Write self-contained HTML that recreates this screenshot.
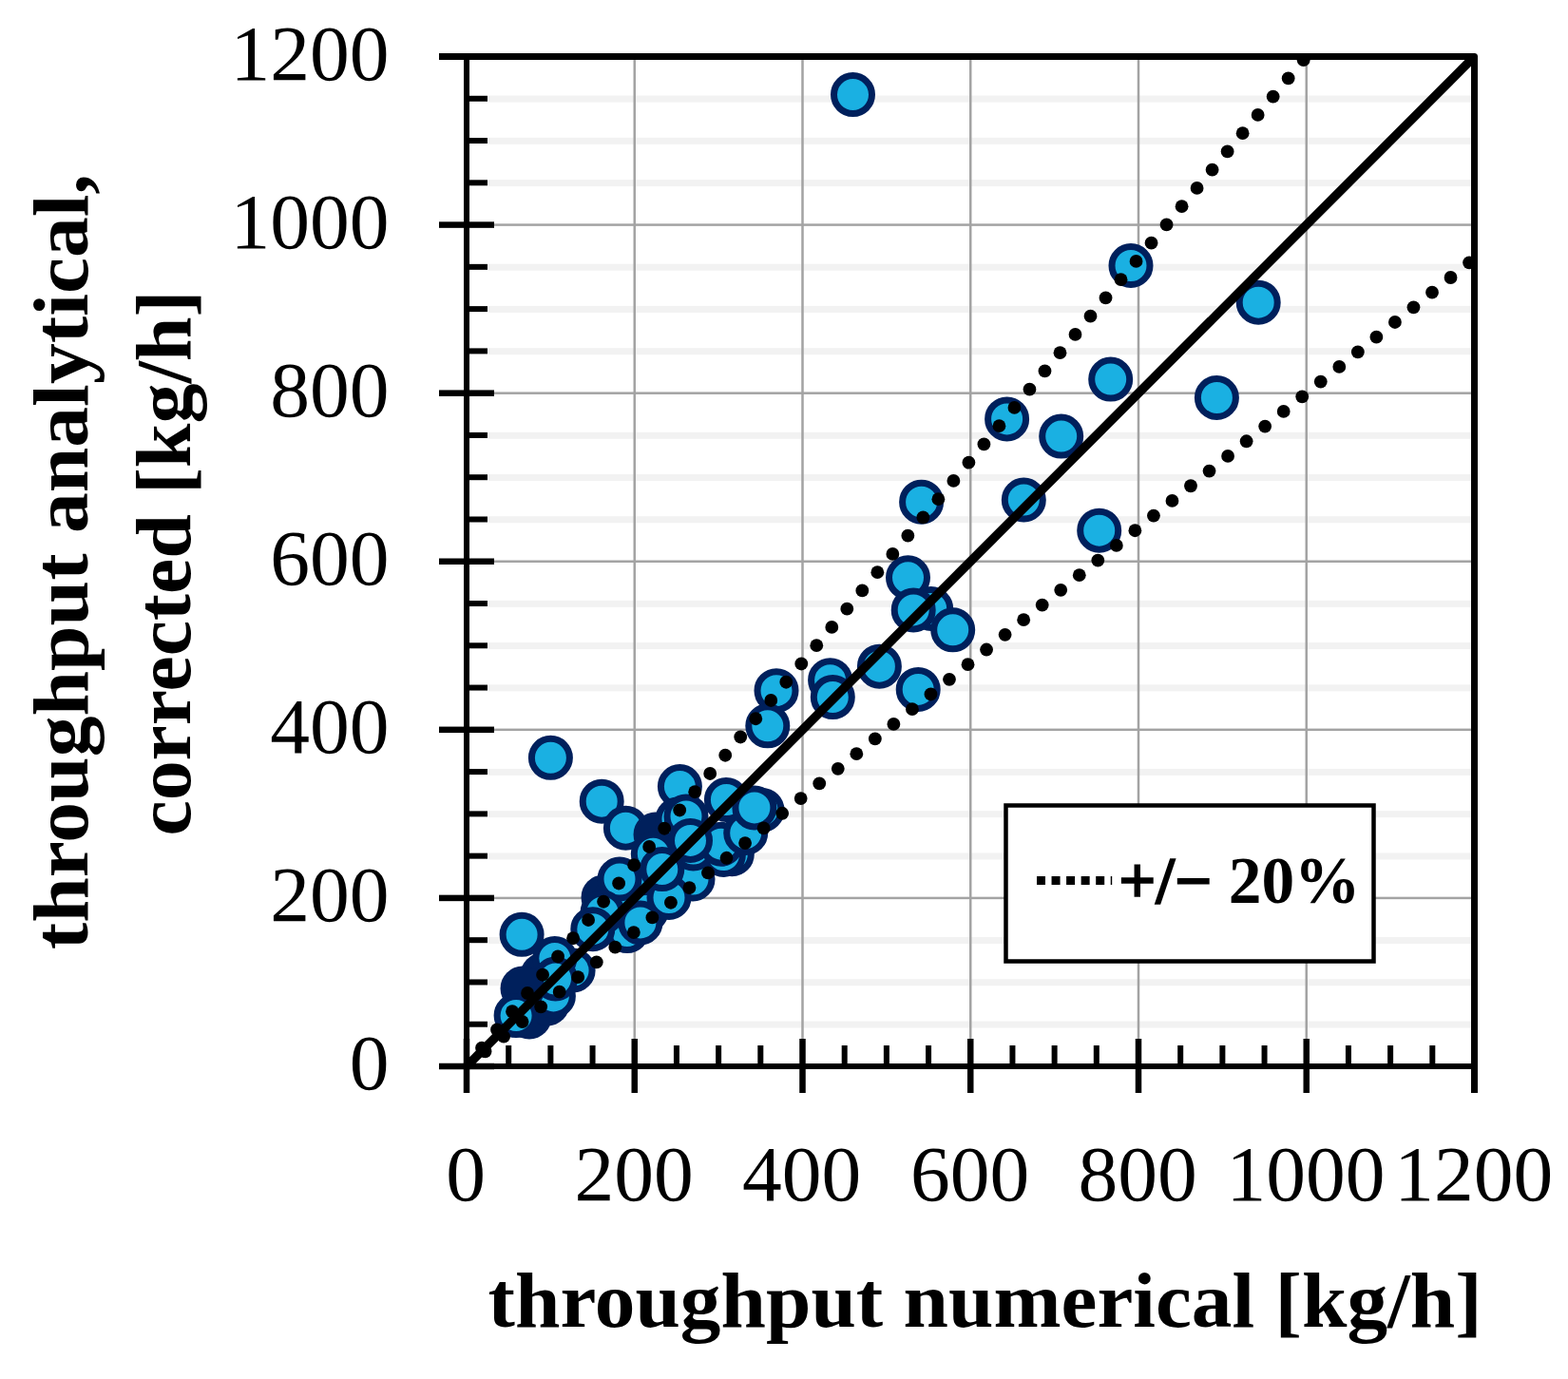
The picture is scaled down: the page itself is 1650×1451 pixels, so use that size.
<!DOCTYPE html>
<html><head><meta charset="utf-8"><title>chart</title><style>html,body{margin:0;padding:0;background:#fff;}svg{display:block;}</style></head><body>
<svg width="1650" height="1451" viewBox="0 0 1650 1451">
<rect width="1650" height="1451" fill="#fff"/>
<rect x="514" y="1074.53" width="1034" height="7" fill="#f2f2f2"/>
<rect x="514" y="1030.26" width="1034" height="7" fill="#f2f2f2"/>
<rect x="514" y="985.99" width="1034" height="7" fill="#f2f2f2"/>
<rect x="514" y="897.45" width="1034" height="7" fill="#f2f2f2"/>
<rect x="514" y="853.17" width="1034" height="7" fill="#f2f2f2"/>
<rect x="514" y="808.90" width="1034" height="7" fill="#f2f2f2"/>
<rect x="514" y="720.36" width="1034" height="7" fill="#f2f2f2"/>
<rect x="514" y="676.09" width="1034" height="7" fill="#f2f2f2"/>
<rect x="514" y="631.82" width="1034" height="7" fill="#f2f2f2"/>
<rect x="514" y="543.28" width="1034" height="7" fill="#f2f2f2"/>
<rect x="514" y="499.01" width="1034" height="7" fill="#f2f2f2"/>
<rect x="514" y="454.74" width="1034" height="7" fill="#f2f2f2"/>
<rect x="514" y="366.20" width="1034" height="7" fill="#f2f2f2"/>
<rect x="514" y="321.93" width="1034" height="7" fill="#f2f2f2"/>
<rect x="514" y="277.65" width="1034" height="7" fill="#f2f2f2"/>
<rect x="514" y="189.11" width="1034" height="7" fill="#f2f2f2"/>
<rect x="514" y="144.84" width="1034" height="7" fill="#f2f2f2"/>
<rect x="514" y="100.57" width="1034" height="7" fill="#f2f2f2"/>
<rect x="520" y="943.67" width="1028" height="2.5" fill="#a3a3a3"/>
<rect x="666.50" y="63" width="2.5" height="1030" fill="#a3a3a3"/>
<rect x="520" y="766.58" width="1028" height="2.5" fill="#a3a3a3"/>
<rect x="843.25" y="63" width="2.5" height="1030" fill="#a3a3a3"/>
<rect x="520" y="589.50" width="1028" height="2.5" fill="#a3a3a3"/>
<rect x="1020.00" y="63" width="2.5" height="1030" fill="#a3a3a3"/>
<rect x="520" y="412.42" width="1028" height="2.5" fill="#a3a3a3"/>
<rect x="1196.75" y="63" width="2.5" height="1030" fill="#a3a3a3"/>
<rect x="520" y="235.33" width="1028" height="2.5" fill="#a3a3a3"/>
<rect x="1373.50" y="63" width="2.5" height="1030" fill="#a3a3a3"/>
<circle cx="897.5" cy="99.6" r="20.0" fill="#1ab0e2" stroke="#00205c" stroke-width="7.0"/>
<circle cx="1190.0" cy="279.5" r="20.0" fill="#1ab0e2" stroke="#00205c" stroke-width="7.0"/>
<circle cx="1324.2" cy="318.2" r="20.0" fill="#1ab0e2" stroke="#00205c" stroke-width="7.0"/>
<circle cx="1168.7" cy="399.1" r="20.0" fill="#1ab0e2" stroke="#00205c" stroke-width="7.0"/>
<circle cx="1280.4" cy="418.5" r="20.0" fill="#1ab0e2" stroke="#00205c" stroke-width="7.0"/>
<circle cx="1059.6" cy="440.9" r="20.0" fill="#1ab0e2" stroke="#00205c" stroke-width="7.0"/>
<circle cx="1116.7" cy="459.1" r="20.0" fill="#1ab0e2" stroke="#00205c" stroke-width="7.0"/>
<circle cx="969.6" cy="528.2" r="20.0" fill="#1ab0e2" stroke="#00205c" stroke-width="7.0"/>
<circle cx="1077.3" cy="526.0" r="20.0" fill="#1ab0e2" stroke="#00205c" stroke-width="7.0"/>
<circle cx="1156.7" cy="558.2" r="20.0" fill="#1ab0e2" stroke="#00205c" stroke-width="7.0"/>
<circle cx="955.5" cy="607.8" r="20.0" fill="#1ab0e2" stroke="#00205c" stroke-width="7.0"/>
<circle cx="979.7" cy="640.5" r="20.0" fill="#1ab0e2" stroke="#00205c" stroke-width="7.0"/>
<circle cx="961.2" cy="641.9" r="20.0" fill="#1ab0e2" stroke="#00205c" stroke-width="7.0"/>
<circle cx="1002.7" cy="662.8" r="20.0" fill="#1ab0e2" stroke="#00205c" stroke-width="7.0"/>
<circle cx="925.4" cy="701.2" r="20.0" fill="#1ab0e2" stroke="#00205c" stroke-width="7.0"/>
<circle cx="873.6" cy="715.7" r="20.0" fill="#1ab0e2" stroke="#00205c" stroke-width="7.0"/>
<circle cx="876.3" cy="733.6" r="20.0" fill="#1ab0e2" stroke="#00205c" stroke-width="7.0"/>
<circle cx="966.2" cy="725.4" r="20.0" fill="#1ab0e2" stroke="#00205c" stroke-width="7.0"/>
<circle cx="817.0" cy="726.7" r="20.0" fill="#1ab0e2" stroke="#00205c" stroke-width="7.0"/>
<circle cx="807.8" cy="763.8" r="20.0" fill="#1ab0e2" stroke="#00205c" stroke-width="7.0"/>
<circle cx="579.4" cy="797.3" r="20.0" fill="#1ab0e2" stroke="#00205c" stroke-width="7.0"/>
<circle cx="633.2" cy="843.2" r="20.0" fill="#1ab0e2" stroke="#00205c" stroke-width="7.0"/>
<circle cx="658.4" cy="871.2" r="20.0" fill="#1ab0e2" stroke="#00205c" stroke-width="7.0"/>
<circle cx="715.4" cy="827.6" r="20.0" fill="#1ab0e2" stroke="#00205c" stroke-width="7.0"/>
<circle cx="554.0" cy="1040.0" r="23.5" fill="#00205c"/>
<circle cx="571.0" cy="1026.0" r="23.5" fill="#00205c"/>
<circle cx="554.0" cy="1044.0" r="23.5" fill="#00205c"/>
<circle cx="557.0" cy="1070.0" r="23.5" fill="#00205c"/>
<circle cx="576.0" cy="1056.0" r="23.5" fill="#00205c"/>
<circle cx="582.4" cy="1047.9" r="20.0" fill="#1ab0e2" stroke="#00205c" stroke-width="7.0"/>
<circle cx="603.1" cy="1021.0" r="20.0" fill="#1ab0e2" stroke="#00205c" stroke-width="7.0"/>
<circle cx="583.8" cy="1008.5" r="20.0" fill="#1ab0e2" stroke="#00205c" stroke-width="7.0"/>
<circle cx="584.5" cy="1030.0" r="20.0" fill="#1ab0e2" stroke="#00205c" stroke-width="7.0"/>
<circle cx="550.0" cy="1040.0" r="23.5" fill="#00205c"/>
<circle cx="543.1" cy="1068.6" r="20.0" fill="#1ab0e2" stroke="#00205c" stroke-width="7.0"/>
<circle cx="549.1" cy="983.3" r="20.0" fill="#1ab0e2" stroke="#00205c" stroke-width="7.0"/>
<circle cx="635.0" cy="944.0" r="23.5" fill="#00205c"/>
<circle cx="677.0" cy="935.0" r="20.0" fill="#1ab0e2" stroke="#00205c" stroke-width="7.0"/>
<circle cx="648.5" cy="943.6" r="20.0" fill="#1ab0e2" stroke="#00205c" stroke-width="7.0"/>
<circle cx="652.0" cy="925.0" r="20.0" fill="#1ab0e2" stroke="#00205c" stroke-width="7.0"/>
<circle cx="680.0" cy="958.6" r="20.0" fill="#1ab0e2" stroke="#00205c" stroke-width="7.0"/>
<circle cx="660.0" cy="979.6" r="20.0" fill="#1ab0e2" stroke="#00205c" stroke-width="7.0"/>
<circle cx="673.9" cy="970.9" r="20.0" fill="#1ab0e2" stroke="#00205c" stroke-width="7.0"/>
<circle cx="634.0" cy="960.0" r="20.0" fill="#1ab0e2" stroke="#00205c" stroke-width="7.0"/>
<circle cx="623.8" cy="977.7" r="20.0" fill="#1ab0e2" stroke="#00205c" stroke-width="7.0"/>
<circle cx="690.0" cy="878.0" r="23.5" fill="#00205c"/>
<circle cx="802.0" cy="852.4" r="20.0" fill="#1ab0e2" stroke="#00205c" stroke-width="7.0"/>
<circle cx="764.4" cy="841.5" r="20.0" fill="#1ab0e2" stroke="#00205c" stroke-width="7.0"/>
<circle cx="713.0" cy="862.0" r="20.0" fill="#1ab0e2" stroke="#00205c" stroke-width="7.0"/>
<circle cx="722.0" cy="859.0" r="20.0" fill="#1ab0e2" stroke="#00205c" stroke-width="7.0"/>
<circle cx="770.3" cy="898.7" r="20.0" fill="#1ab0e2" stroke="#00205c" stroke-width="7.0"/>
<circle cx="729.0" cy="925.0" r="20.0" fill="#1ab0e2" stroke="#00205c" stroke-width="7.0"/>
<circle cx="704.0" cy="944.5" r="20.0" fill="#1ab0e2" stroke="#00205c" stroke-width="7.0"/>
<circle cx="687.3" cy="898.2" r="20.0" fill="#1ab0e2" stroke="#00205c" stroke-width="7.0"/>
<circle cx="696.8" cy="914.6" r="20.0" fill="#1ab0e2" stroke="#00205c" stroke-width="7.0"/>
<circle cx="761.4" cy="899.5" r="20.0" fill="#1ab0e2" stroke="#00205c" stroke-width="7.0"/>
<circle cx="729.6" cy="893.0" r="20.0" fill="#1ab0e2" stroke="#00205c" stroke-width="7.0"/>
<circle cx="758.9" cy="888.2" r="20.0" fill="#1ab0e2" stroke="#00205c" stroke-width="7.0"/>
<circle cx="784.7" cy="876.5" r="20.0" fill="#1ab0e2" stroke="#00205c" stroke-width="7.0"/>
<circle cx="793.9" cy="849.9" r="20.0" fill="#1ab0e2" stroke="#00205c" stroke-width="7.0"/>
<circle cx="726.5" cy="884.4" r="20.0" fill="#1ab0e2" stroke="#00205c" stroke-width="7.0"/>
<line x1="491.0" y1="1122.0" x2="1551.5" y2="59.5" stroke="#000" stroke-width="9.4" stroke-linecap="butt"/>
<g fill="#000">
<circle cx="507.01" cy="1102.75" r="6.9"/>
<circle cx="523.02" cy="1083.50" r="6.9"/>
<circle cx="539.04" cy="1064.25" r="6.9"/>
<circle cx="555.05" cy="1045.00" r="6.9"/>
<circle cx="571.06" cy="1025.74" r="6.9"/>
<circle cx="587.07" cy="1006.49" r="6.9"/>
<circle cx="603.09" cy="987.24" r="6.9"/>
<circle cx="619.10" cy="967.99" r="6.9"/>
<circle cx="635.11" cy="948.74" r="6.9"/>
<circle cx="651.12" cy="929.49" r="6.9"/>
<circle cx="667.14" cy="910.24" r="6.9"/>
<circle cx="683.15" cy="890.99" r="6.9"/>
<circle cx="699.16" cy="871.74" r="6.9"/>
<circle cx="715.17" cy="852.48" r="6.9"/>
<circle cx="731.19" cy="833.23" r="6.9"/>
<circle cx="747.20" cy="813.98" r="6.9"/>
<circle cx="763.21" cy="794.73" r="6.9"/>
<circle cx="779.22" cy="775.48" r="6.9"/>
<circle cx="795.24" cy="756.23" r="6.9"/>
<circle cx="811.25" cy="736.98" r="6.9"/>
<circle cx="827.26" cy="717.73" r="6.9"/>
<circle cx="843.27" cy="698.48" r="6.9"/>
<circle cx="859.28" cy="679.22" r="6.9"/>
<circle cx="875.30" cy="659.97" r="6.9"/>
<circle cx="891.31" cy="640.72" r="6.9"/>
<circle cx="907.32" cy="621.47" r="6.9"/>
<circle cx="923.33" cy="602.22" r="6.9"/>
<circle cx="939.35" cy="582.97" r="6.9"/>
<circle cx="955.36" cy="563.72" r="6.9"/>
<circle cx="971.37" cy="544.47" r="6.9"/>
<circle cx="987.38" cy="525.22" r="6.9"/>
<circle cx="1003.40" cy="505.96" r="6.9"/>
<circle cx="1019.41" cy="486.71" r="6.9"/>
<circle cx="1035.42" cy="467.46" r="6.9"/>
<circle cx="1051.43" cy="448.21" r="6.9"/>
<circle cx="1067.45" cy="428.96" r="6.9"/>
<circle cx="1083.46" cy="409.71" r="6.9"/>
<circle cx="1099.47" cy="390.46" r="6.9"/>
<circle cx="1115.48" cy="371.21" r="6.9"/>
<circle cx="1131.50" cy="351.96" r="6.9"/>
<circle cx="1147.51" cy="332.70" r="6.9"/>
<circle cx="1163.52" cy="313.45" r="6.9"/>
<circle cx="1179.53" cy="294.20" r="6.9"/>
<circle cx="1195.55" cy="274.95" r="6.9"/>
<circle cx="1211.56" cy="255.70" r="6.9"/>
<circle cx="1227.57" cy="236.45" r="6.9"/>
<circle cx="1243.58" cy="217.20" r="6.9"/>
<circle cx="1259.59" cy="197.95" r="6.9"/>
<circle cx="1275.61" cy="178.70" r="6.9"/>
<circle cx="1291.62" cy="159.44" r="6.9"/>
<circle cx="1307.63" cy="140.19" r="6.9"/>
<circle cx="1323.64" cy="120.94" r="6.9"/>
<circle cx="1339.66" cy="101.69" r="6.9"/>
<circle cx="1355.67" cy="82.44" r="6.9"/>
<circle cx="1371.68" cy="63.19" r="6.9"/>
<circle cx="510.54" cy="1106.34" r="6.9"/>
<circle cx="530.08" cy="1090.68" r="6.9"/>
<circle cx="549.62" cy="1075.02" r="6.9"/>
<circle cx="569.15" cy="1059.36" r="6.9"/>
<circle cx="588.69" cy="1043.70" r="6.9"/>
<circle cx="608.23" cy="1028.04" r="6.9"/>
<circle cx="627.77" cy="1012.38" r="6.9"/>
<circle cx="647.31" cy="996.72" r="6.9"/>
<circle cx="666.85" cy="981.06" r="6.9"/>
<circle cx="686.39" cy="965.40" r="6.9"/>
<circle cx="705.92" cy="949.74" r="6.9"/>
<circle cx="725.46" cy="934.08" r="6.9"/>
<circle cx="745.00" cy="918.42" r="6.9"/>
<circle cx="764.54" cy="902.76" r="6.9"/>
<circle cx="784.08" cy="887.10" r="6.9"/>
<circle cx="803.62" cy="871.43" r="6.9"/>
<circle cx="823.16" cy="855.77" r="6.9"/>
<circle cx="842.69" cy="840.11" r="6.9"/>
<circle cx="862.23" cy="824.45" r="6.9"/>
<circle cx="881.77" cy="808.79" r="6.9"/>
<circle cx="901.31" cy="793.13" r="6.9"/>
<circle cx="920.85" cy="777.47" r="6.9"/>
<circle cx="940.39" cy="761.81" r="6.9"/>
<circle cx="959.93" cy="746.15" r="6.9"/>
<circle cx="979.46" cy="730.49" r="6.9"/>
<circle cx="999.00" cy="714.83" r="6.9"/>
<circle cx="1018.54" cy="699.17" r="6.9"/>
<circle cx="1038.08" cy="683.51" r="6.9"/>
<circle cx="1057.62" cy="667.85" r="6.9"/>
<circle cx="1077.16" cy="652.19" r="6.9"/>
<circle cx="1096.70" cy="636.53" r="6.9"/>
<circle cx="1116.23" cy="620.87" r="6.9"/>
<circle cx="1135.77" cy="605.21" r="6.9"/>
<circle cx="1155.31" cy="589.55" r="6.9"/>
<circle cx="1174.85" cy="573.89" r="6.9"/>
<circle cx="1194.39" cy="558.23" r="6.9"/>
<circle cx="1213.93" cy="542.57" r="6.9"/>
<circle cx="1233.47" cy="526.91" r="6.9"/>
<circle cx="1253.00" cy="511.25" r="6.9"/>
<circle cx="1272.54" cy="495.59" r="6.9"/>
<circle cx="1292.08" cy="479.93" r="6.9"/>
<circle cx="1311.62" cy="464.27" r="6.9"/>
<circle cx="1331.16" cy="448.61" r="6.9"/>
<circle cx="1350.70" cy="432.95" r="6.9"/>
<circle cx="1370.24" cy="417.29" r="6.9"/>
<circle cx="1389.77" cy="401.62" r="6.9"/>
<circle cx="1409.31" cy="385.96" r="6.9"/>
<circle cx="1428.85" cy="370.30" r="6.9"/>
<circle cx="1448.39" cy="354.64" r="6.9"/>
<circle cx="1467.93" cy="338.98" r="6.9"/>
<circle cx="1487.47" cy="323.32" r="6.9"/>
<circle cx="1507.01" cy="307.66" r="6.9"/>
<circle cx="1526.54" cy="292.00" r="6.9"/>
<circle cx="1546.08" cy="276.34" r="6.9"/>
</g>
<path d="M462 59.5 H1551.5 V1150" fill="none" stroke="#000" stroke-width="7" stroke-linejoin="round"/>
<rect x="488" y="56" width="6" height="1094" fill="#000"/>
<rect x="462" y="1119" width="1093" height="6" fill="#000"/>
<rect x="462" y="1118.75" width="58" height="6.5" fill="#000"/>
<rect x="494" y="1074.73" width="19" height="6" fill="#000"/>
<rect x="494" y="1030.46" width="19" height="6" fill="#000"/>
<rect x="494" y="986.19" width="19" height="6" fill="#000"/>
<rect x="462" y="941.67" width="58" height="6.5" fill="#000"/>
<rect x="494" y="897.65" width="19" height="6" fill="#000"/>
<rect x="494" y="853.38" width="19" height="6" fill="#000"/>
<rect x="494" y="809.10" width="19" height="6" fill="#000"/>
<rect x="462" y="764.58" width="58" height="6.5" fill="#000"/>
<rect x="494" y="720.56" width="19" height="6" fill="#000"/>
<rect x="494" y="676.29" width="19" height="6" fill="#000"/>
<rect x="494" y="632.02" width="19" height="6" fill="#000"/>
<rect x="462" y="587.50" width="58" height="6.5" fill="#000"/>
<rect x="494" y="543.48" width="19" height="6" fill="#000"/>
<rect x="494" y="499.21" width="19" height="6" fill="#000"/>
<rect x="494" y="454.94" width="19" height="6" fill="#000"/>
<rect x="462" y="410.42" width="58" height="6.5" fill="#000"/>
<rect x="494" y="366.40" width="19" height="6" fill="#000"/>
<rect x="494" y="322.12" width="19" height="6" fill="#000"/>
<rect x="494" y="277.85" width="19" height="6" fill="#000"/>
<rect x="462" y="233.33" width="58" height="6.5" fill="#000"/>
<rect x="494" y="189.31" width="19" height="6" fill="#000"/>
<rect x="494" y="145.04" width="19" height="6" fill="#000"/>
<rect x="494" y="100.77" width="19" height="6" fill="#000"/>
<rect x="462" y="56.25" width="58" height="6.5" fill="#000"/>
<rect x="487.75" y="1093" width="6.5" height="57" fill="#000"/>
<rect x="532.19" y="1100" width="6" height="19" fill="#000"/>
<rect x="576.38" y="1100" width="6" height="19" fill="#000"/>
<rect x="620.56" y="1100" width="6" height="19" fill="#000"/>
<rect x="664.50" y="1093" width="6.5" height="57" fill="#000"/>
<rect x="708.94" y="1100" width="6" height="19" fill="#000"/>
<rect x="753.12" y="1100" width="6" height="19" fill="#000"/>
<rect x="797.31" y="1100" width="6" height="19" fill="#000"/>
<rect x="841.25" y="1093" width="6.5" height="57" fill="#000"/>
<rect x="885.69" y="1100" width="6" height="19" fill="#000"/>
<rect x="929.88" y="1100" width="6" height="19" fill="#000"/>
<rect x="974.06" y="1100" width="6" height="19" fill="#000"/>
<rect x="1018.00" y="1093" width="6.5" height="57" fill="#000"/>
<rect x="1062.44" y="1100" width="6" height="19" fill="#000"/>
<rect x="1106.62" y="1100" width="6" height="19" fill="#000"/>
<rect x="1150.81" y="1100" width="6" height="19" fill="#000"/>
<rect x="1194.75" y="1093" width="6.5" height="57" fill="#000"/>
<rect x="1239.19" y="1100" width="6" height="19" fill="#000"/>
<rect x="1283.38" y="1100" width="6" height="19" fill="#000"/>
<rect x="1327.56" y="1100" width="6" height="19" fill="#000"/>
<rect x="1371.50" y="1093" width="6.5" height="57" fill="#000"/>
<rect x="1415.94" y="1100" width="6" height="19" fill="#000"/>
<rect x="1460.12" y="1100" width="6" height="19" fill="#000"/>
<rect x="1504.31" y="1100" width="6" height="19" fill="#000"/>
<rect x="1548.25" y="1093" width="6.5" height="57" fill="#000"/>
<rect x="1058.5" y="847.5" width="387" height="164" fill="#fff" stroke="#000" stroke-width="4.5"/>
<line x1="1091" y1="926.5" x2="1170.2" y2="926.5" stroke="#000" stroke-width="9" stroke-dasharray="9 6.55"/>
<text x="1177" y="950" font-family="&quot;Liberation Serif&quot;, serif" font-weight="bold" font-size="69" textLength="254.5" lengthAdjust="spacingAndGlyphs"><tspan stroke="#000" stroke-width="1.6">+/−</tspan> 20%</text>
<g font-family="&quot;Liberation Serif&quot;, serif" font-size="83.5" fill="#000">
<text x="409.5" y="1146.0" text-anchor="end">0</text>
<text x="409.5" y="968.9" text-anchor="end">200</text>
<text x="409.5" y="791.8" text-anchor="end">400</text>
<text x="409.5" y="614.8" text-anchor="end">600</text>
<text x="409.5" y="437.7" text-anchor="end">800</text>
<text x="409.5" y="260.6" text-anchor="end">1000</text>
<text x="409.5" y="83.5" text-anchor="end">1200</text>
<text x="490.2" y="1262.5" text-anchor="middle">0</text>
<text x="667.0" y="1262.5" text-anchor="middle">200</text>
<text x="843.7" y="1262.5" text-anchor="middle">400</text>
<text x="1020.5" y="1262.5" text-anchor="middle">600</text>
<text x="1197.2" y="1262.5" text-anchor="middle">800</text>
<text x="1374.0" y="1262.5" text-anchor="middle">1000</text>
<text x="1550.7" y="1262.5" text-anchor="middle">1200</text>
</g>
<g font-family="&quot;Liberation Serif&quot;, serif" font-weight="bold" font-size="82" fill="#000">
<text x="1036.6" y="1396.4" text-anchor="middle" textLength="1046" lengthAdjust="spacingAndGlyphs">throughput numerical [kg/h]</text>
<text transform="translate(92,591.2) rotate(-90)" text-anchor="middle" textLength="816" lengthAdjust="spacingAndGlyphs">throughput analytical,</text>
<text transform="translate(200,592.6) rotate(-90)" text-anchor="middle" textLength="574" lengthAdjust="spacingAndGlyphs">corrected [kg/h]</text>
</g>
</svg>
</body></html>
